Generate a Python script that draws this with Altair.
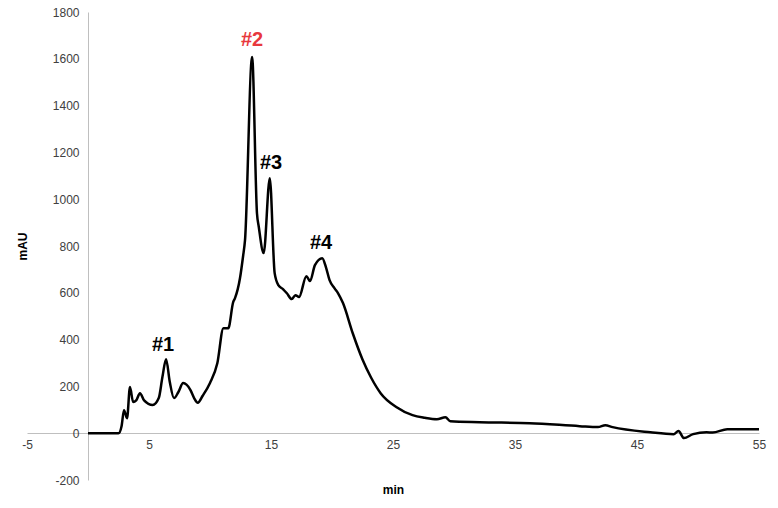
import altair as alt
import pandas as pd

# Chromatogram trace
time_min = [0, 2.5, 2.75, 2.95, 3.2, 3.44, 3.7, 3.95, 4.26, 4.6, 5.3, 5.8, 6.1, 6.4, 6.7,
            7.05, 7.4, 7.8, 8.4, 8.7, 9.0, 9.4, 10.0, 10.6, 11.1, 11.5, 11.9, 12.05,
            12.46, 12.7, 12.87, 13.45, 13.85, 14.0, 14.4, 14.9, 15.3, 15.6, 16.0, 16.3,
            16.7, 17.0, 17.3, 17.9, 18.2, 18.6, 19.2, 19.5, 19.8, 20.2, 20.5, 20.9,
            21.7, 22.5, 23.2, 24.0, 25.3, 26.6, 27.6, 28.6, 29.3, 29.7, 32.1, 36.2, 40.3,
            41.8, 42.4, 43.0, 46.1, 48.0, 48.4, 48.85, 49.6, 50.7, 51.2, 52.4, 55.0]
absorbance_mau = [0, 0, 30, 98, 64, 197, 133, 140, 171, 140, 120, 150, 240, 316, 220,
                  150, 175, 214, 184, 150, 130, 160, 215, 299, 449, 449, 560, 577,
                  663, 752, 825, 1608, 940, 881, 770, 1090, 684, 633, 615, 598,
                  573, 590, 582, 671, 650, 718, 748, 710, 654, 620, 598, 556,
                  427, 315, 238, 170, 111, 77, 66, 60, 68, 51, 47, 43, 30,
                  26, 34, 26, 4, -4, 9, -21, -4, 4, 3, 17, 17]

peak_labels = ["#1", "#2", "#3", "#4"]
peak_x = [6.15, 13.45, 15.0, 19.1]
peak_y = [376, 1680, 1154, 812]
peak_colors = ["#000000", "#e8383d", "#000000", "#000000"]

x_ticks = [-5, 5, 15, 25, 35, 45, 55]
y_ticks = [-200, 0, 200, 400, 600, 800, 1000, 1200, 1400, 1600, 1800]

df = pd.DataFrame({"t": time_min, "mAU": absorbance_mau})
lab = pd.DataFrame({"label": peak_labels, "t": peak_x, "mAU": peak_y, "color": peak_colors})

FONT = "Liberation Sans"
x_scale = alt.Scale(domain=[-5, 55], nice=False, zero=False)
y_scale = alt.Scale(domain=[-200, 1800], nice=False, zero=False)

x_axis = alt.Axis(values=x_ticks, title="min", offset=-47, grid=False, ticks=False, tickSize=0,
                  labelExpr="'' + datum.value",
                  domainColor="#bfbfbf", domainWidth=1, labelColor="#404040", labelFont=FONT,
                  labelFontSize=12, labelPadding=6, labelOverlap=False, labelFlush=False,
                  titleFont=FONT, titleFontSize=12, titleFontWeight="bold", titleColor="#000000",
                  titleX=366, titleY=56, titleAlign="center", titleBaseline="middle")
y_axis = alt.Axis(values=y_ticks, title="mAU", offset=-61, grid=False, ticks=False, tickSize=0,
                  labelExpr="'' + datum.value",
                  domainColor="#bfbfbf", domainWidth=1, labelColor="#404040", labelFont=FONT,
                  labelFontSize=12, labelPadding=9, labelOverlap=False, labelFlush=False,
                  titleFont=FONT, titleFontSize=12, titleFontWeight="bold", titleColor="#000000",
                  titleX=-66, titleY=234, titleAngle=270, titleAlign="center", titleBaseline="middle")

line = alt.Chart(df).mark_line(color="black", strokeWidth=2.5, strokeJoin="round",
                               interpolate="monotone").encode(
    x=alt.X("t:Q", scale=x_scale, axis=x_axis),
    y=alt.Y("mAU:Q", scale=y_scale, axis=y_axis),
)

text = alt.Chart(lab).mark_text(font=FONT, fontSize=20, fontWeight="bold", baseline="middle",
                                align="center").encode(
    x=alt.X("t:Q", scale=x_scale),
    y=alt.Y("mAU:Q", scale=y_scale),
    text="label:N",
    color=alt.Color("color:N", scale=None),
)

chart = alt.layer(line, text).properties(
    width=732, height=468,
    autosize=alt.AutoSizeParams(type="none"),
    padding={"left": 27, "top": 12, "right": 19, "bottom": 28},
    background="white",
).configure_view(strokeWidth=0)

chart.save("out.html", embed_options={"renderer": "svg", "actions": False})
